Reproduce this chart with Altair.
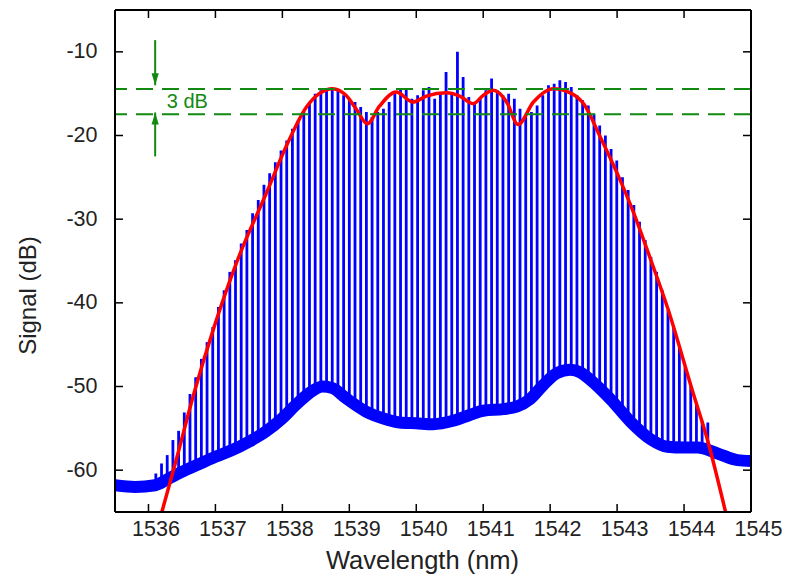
import altair as alt
import pandas as pd

# ---------------- data ----------------
x_domain = [1535.5, 1545.0]
y_domain = [-65.0, -5.0]
x_ticks = [1536, 1537, 1538, 1539, 1540, 1541, 1542, 1543, 1544, 1545]
y_ticks = [-60, -50, -40, -30, -20, -10]

comb_wl = [
    1536.110, 1536.195, 1536.280, 1536.365, 1536.450, 1536.535, 1536.620, 1536.705,
    1536.790, 1536.875, 1536.960, 1537.045, 1537.130, 1537.215, 1537.300, 1537.385,
    1537.470, 1537.555, 1537.640, 1537.725, 1537.810, 1537.895, 1537.980, 1538.065,
    1538.150, 1538.235, 1538.320, 1538.405, 1538.490, 1538.575, 1538.660, 1538.745,
    1538.830, 1538.915, 1539.000, 1539.085, 1539.170, 1539.255, 1539.340, 1539.425,
    1539.510, 1539.595, 1539.680, 1539.765, 1539.850, 1539.935, 1540.020, 1540.105,
    1540.190, 1540.275, 1540.360, 1540.445, 1540.530, 1540.615, 1540.700, 1540.785,
    1540.870, 1540.955, 1541.040, 1541.125, 1541.210, 1541.295, 1541.380, 1541.465,
    1541.550, 1541.635, 1541.720, 1541.805, 1541.890, 1541.975, 1542.060, 1542.145,
    1542.230, 1542.315, 1542.400, 1542.485, 1542.570, 1542.655, 1542.740, 1542.825,
    1542.910, 1542.995, 1543.080, 1543.165, 1543.250, 1543.335, 1543.420, 1543.505,
    1543.590, 1543.675, 1543.760, 1543.845, 1543.930, 1544.015, 1544.100, 1544.185,
    1544.270, 1544.355,
]
comb_peak = [
    -60.4, -59.2, -58.2, -56.4, -55.3, -53.1, -50.9, -48.9,
    -46.7, -44.7, -42.9, -40.5, -38.5, -36.3, -34.9, -32.9,
    -31.3, -29.3, -27.7, -25.9, -24.5, -23.2, -21.8, -20.6,
    -19.2, -18.2, -17.2, -16.0, -15.0, -14.6, -14.4, -14.4,
    -14.6, -15.2, -15.6, -16.0, -16.6, -17.2, -17.8, -17.2,
    -16.8, -16.0, -15.0, -14.4, -14.4, -15.6, -15.2, -14.6,
    -14.2, -15.6, -15.0, -12.4, -15.0, -10.0, -13.0, -15.4,
    -16.0, -15.6, -14.6, -13.2, -14.6, -15.2, -15.0, -15.6,
    -16.8, -17.8, -17.2, -16.4, -15.2, -14.0, -13.8, -13.4,
    -13.6, -14.2, -15.2, -15.8, -16.4, -17.4, -18.8, -20.0,
    -21.6, -23.0, -25.0, -26.5, -28.3, -30.3, -32.5, -34.5,
    -36.3, -38.5, -40.9, -42.9, -45.3, -47.7, -49.9, -52.1,
    -54.1, -54.3,
]

floor_wl = [
    1535.5, 1535.8, 1536.1, 1536.3, 1536.5, 1536.75, 1537.0, 1537.25, 1537.5,
    1537.75, 1538.0, 1538.2, 1538.4, 1538.6, 1538.75, 1538.95, 1539.25, 1539.5,
    1539.75, 1540.0, 1540.25, 1540.55, 1540.8, 1541.0, 1541.3, 1541.5, 1541.7,
    1541.9, 1542.1, 1542.3, 1542.45, 1542.6, 1542.9, 1543.2, 1543.5, 1543.75,
    1544.0, 1544.2, 1544.5, 1544.8, 1545.0,
]
floor_db = [
    -61.8, -62.0, -61.8, -61.0, -60.2, -59.3, -58.4, -57.6, -56.6,
    -55.4, -53.8, -52.2, -50.8, -50.0, -50.2, -51.4, -53.0, -53.8,
    -54.3, -54.4, -54.5, -54.1, -53.4, -52.9, -52.7, -52.4, -51.5,
    -49.8, -48.4, -48.0, -48.3, -49.2, -51.5, -54.2, -56.3, -57.2,
    -57.3, -57.3, -58.0, -58.8, -58.9,
]

env_wl = [
    1536.20, 1536.41, 1536.68, 1536.98, 1537.33, 1537.76, 1538.08, 1538.36,
    1538.55, 1538.75, 1538.95, 1539.10, 1539.27, 1539.45, 1539.70, 1539.95,
    1540.15, 1540.45, 1540.65, 1540.85, 1541.00, 1541.15, 1541.35, 1541.52,
    1541.75, 1542.05, 1542.30, 1542.50, 1542.75, 1543.00, 1543.25, 1543.50,
    1543.75, 1544.14, 1544.34, 1544.62,
]
env_db = [
    -65.0, -58.9, -50.8, -42.9, -34.9, -26.9, -20.9, -16.6,
    -15.0, -14.4, -15.2, -16.8, -18.6, -16.5, -14.8, -16.0,
    -15.3, -14.9, -15.3, -16.2, -15.2, -14.6, -16.0, -18.7,
    -16.0, -14.4, -14.9, -16.2, -20.2, -24.5, -29.3, -34.8,
    -40.5, -50.9, -56.1, -65.0,
]

level_db = [-14.45, -17.45]
arrow_wl = [1536.10, 1536.10]
arrow_tail = [-8.6, -22.5]
arrow_tip = [-14.0, -17.25]
note_wl = [1536.58]
note_db = [-15.95]
note_text = ["3 dB"]

# ---------------- styling ----------------
W, H = 636, 502
BLUE = "#0000ff"
RED = "#ff0000"
GREEN = "#128a12"
INK = "#222222"
FONT = "Liberation Sans"

xs = alt.Scale(domain=x_domain, nice=False, zero=False)
ys = alt.Scale(domain=y_domain, nice=False, zero=False)

comb = pd.DataFrame({"wl": comb_wl, "peak": comb_peak})
floor = pd.DataFrame({"wl": floor_wl, "db": floor_db})
env = pd.DataFrame({"wl": env_wl, "db": env_db})
levels = pd.DataFrame({"db": level_db})
arrows = pd.DataFrame({"wl": arrow_wl, "tail": arrow_tail, "tip": arrow_tip})
note = pd.DataFrame({"wl": note_wl, "db": note_db, "t": note_text})
xt = pd.DataFrame({"t": x_ticks})
yt = pd.DataFrame({"t": y_ticks})
xd = pd.DataFrame({"v": x_domain})
yd = pd.DataFrame({"v": y_domain})

x_axis = alt.Axis(
    values=x_ticks, labelExpr="'' + datum.value", title="Wavelength (nm)",
    labelFont=FONT, labelFontSize=21.5, labelColor=INK, labelPadding=6, labelOffset=7,
    labelFlush=False, labelOverlap=False,
    titleFont=FONT, titleFontSize=25.5, titleFontWeight="normal", titleColor=INK,
    titleX=307, titleY=56, titleAlign="center", titleBaseline="alphabetic",
    ticks=False, tickSize=0, domain=False, grid=False,
)
y_axis = alt.Axis(
    values=y_ticks, labelExpr="'' + datum.value", title="Signal (dB)",
    labelFont=FONT, labelFontSize=21.5, labelColor=INK, labelPadding=18,
    labelOverlap=False,
    titleFont=FONT, titleFontSize=24, titleFontWeight="normal", titleColor=INK,
    titleX=-87, titleY=285, titleBaseline="middle", titleAlign="center", titleAngle=270,
    ticks=False, tickSize=0, domain=False, grid=False,
)

def X(f):
    return alt.X(f, scale=xs, axis=x_axis)

def Y(f):
    return alt.Y(f, scale=ys, axis=y_axis)

comb_layer = alt.Chart(comb).mark_rule(color=BLUE, strokeWidth=2.8, clip=True).encode(
    x=X("wl:Q"), y=Y("peak:Q"), y2=alt.datum(-65),
)

mask_layer = alt.Chart(floor).mark_area(color="white", interpolate="monotone", clip=True).encode(
    x=X("wl:Q"), y=Y("db:Q"), y2=alt.datum(-65)
)

floor_layer = alt.Chart(floor).mark_line(
    color=BLUE, strokeWidth=12, interpolate="monotone", clip=True, strokeJoin="round"
).encode(x=X("wl:Q"), y=Y("db:Q"))

env_layer = alt.Chart(env).mark_line(
    color=RED, strokeWidth=3.5, interpolate="monotone", clip=True
).encode(x=X("wl:Q"), y=Y("db:Q"))

level_layer = alt.Chart(levels).mark_rule(
    color=GREEN, strokeWidth=2, strokeDash=[17, 9]
).encode(y=Y("db:Q"))

shaft_layer = alt.Chart(arrows).mark_rule(color=GREEN, strokeWidth=2).encode(
    x=X("wl:Q"), y=Y("tail:Q"), y2="tip:Q"
)

head_down = alt.Chart(arrows.iloc[[0]]).mark_point(
    shape="M0,1L-0.6,-1L0.6,-1Z", filled=True, size=144, color=GREEN, opacity=1, yOffset=-6
).encode(x=X("wl:Q"), y=Y("tip:Q"))

head_up = alt.Chart(arrows.iloc[[1]]).mark_point(
    shape="M0,-1L-0.6,1L0.6,1Z", filled=True, size=144, color=GREEN, opacity=1, yOffset=6
).encode(x=X("wl:Q"), y=Y("tip:Q"))

note_layer = alt.Chart(note).mark_text(
    font=FONT, fontSize=20, color=GREEN, align="center", baseline="middle"
).encode(x=X("wl:Q"), y=Y("db:Q"), text="t:N")

tick_b = alt.Chart(xt).mark_rule(color="black", strokeWidth=1.5).encode(
    x=X("t:Q"), y=alt.value(H), y2=alt.value(H - 8))
tick_t = alt.Chart(xt).mark_rule(color="black", strokeWidth=1.5).encode(
    x=X("t:Q"), y=alt.value(0), y2=alt.value(8))
tick_l = alt.Chart(yt).mark_rule(color="black", strokeWidth=1.5).encode(
    y=Y("t:Q"), x=alt.value(0), x2=alt.value(8))
tick_r = alt.Chart(yt).mark_rule(color="black", strokeWidth=1.5).encode(
    y=Y("t:Q"), x=alt.value(W), x2=alt.value(W - 8))

frame_v = alt.Chart(xd).mark_rule(color="black", strokeWidth=2).encode(x=X("v:Q"))
frame_h = alt.Chart(yd).mark_rule(color="black", strokeWidth=2).encode(y=Y("v:Q"))

chart = alt.layer(
    comb_layer, mask_layer, floor_layer, env_layer, level_layer,
    shaft_layer, head_down, head_up, note_layer,
    tick_b, tick_t, tick_l, tick_r, frame_v, frame_h,
).properties(
    width=W, height=H,
    padding={"left": 107, "top": 2, "right": 32, "bottom": 66},
    autosize=alt.AutoSizeParams(type="none"),
    background="white",
).configure_view(stroke="transparent")

chart.save("out.html", embed_options={"renderer": "svg", "actions": False})
